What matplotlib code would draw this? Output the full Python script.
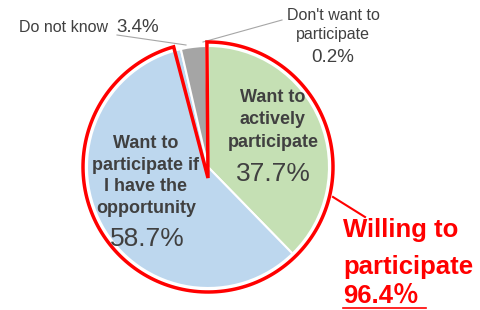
import numpy as np
import matplotlib.pyplot as plt
from matplotlib.patches import Polygon

plt.rcParams['font.family'] = ['Liberation Sans', 'Noto Sans CJK JP', 'DejaVu Sans']

categories = ['Want to actively participate', 'Want to participate if I have the opportunity',
              'Do not know', "Don't want to participate"]
values = [37.7, 58.7, 3.4, 0.2]
willing = 96.4
colors = ['#C5E0B4', '#BDD7EE', '#A5A5A5', '#FFC000']

H = 310
def Y(y):
    return H - y

fig = plt.figure(figsize=(4.8, 3.1), dpi=100)
ax = fig.add_axes([0, 0, 1, 1])

cx, cy, r = 208, Y(167), 121
ax.pie(values, colors=colors, startangle=90, counterclock=False,
       center=(cx, cy), radius=r,
       wedgeprops=dict(edgecolor='white', linewidth=1.5))
ax.set_xlim(0, 480)
ax.set_ylim(0, 310)
ax.set_aspect('equal')
ax.axis('off')

# red outline around the "willing" part
a_end = 90 + 360 - willing / 100 * 360 + 3
angles = np.radians(np.linspace(90.5 + 360, a_end, 200))
ro = r + 4
pts = [(cx + ro * np.cos(t), cy + ro * np.sin(t)) for t in angles]
pts.append((cx, Y(178)))
ax.add_patch(Polygon(pts, closed=True, fill=False, edgecolor='#FF0000', linewidth=2.5, zorder=5))

dark = '#404040'
ax.text(273, Y(120), 'Want to\nactively\nparticipate', ha='center', va='center',
        fontsize=13, fontweight='bold', color=dark, linespacing=1.4, zorder=6)
ax.text(273, Y(174), '37.7%', ha='center', va='center', fontsize=19, color=dark, zorder=6)
ax.text(146, Y(176), 'Want to\nparticipate if\nI have the\nopportunity', ha='center', va='center',
        fontsize=13, fontweight='bold', color=dark, linespacing=1.35, zorder=6)
ax.text(147, Y(239), '58.7%', ha='center', va='center', fontsize=19, color=dark, zorder=6)

# outside labels
ax.text(19, Y(28), 'Do not know', ha='left', va='center', fontsize=11.5, color=dark)
ax.text(116, Y(27), '3.4%', ha='left', va='center', fontsize=13.5, color=dark)
ax.plot([117, 186], [Y(35), Y(45)], color='#A6A6A6', lw=0.8)
ax.text(333, Y(25), "Don't want to\nparticipate", ha='center', va='center',
        fontsize=11.5, color=dark, linespacing=1.3)
ax.text(333, Y(57), '0.2%', ha='center', va='center', fontsize=13.5, color=dark)
ax.plot([203, 282], [Y(42), Y(20)], color='#A6A6A6', lw=0.8)

red = '#FF0000'
ax.plot([333, 365], [Y(197), Y(217)], color=red, lw=1.5)
ax.text(343, Y(230), 'Willing to', ha='left', va='center', fontsize=18.5, fontweight='bold', color=red)
ax.text(343, Y(267), 'participate', ha='left', va='center', fontsize=18.5, fontweight='bold', color=red)
ax.text(343, Y(296), '96.4％', ha='left', va='center', fontsize=18.5, fontweight='bold', color=red)
ax.plot([343, 426], [Y(308), Y(308)], color=red, lw=1.2)

fig.savefig('out.png', dpi=100)
